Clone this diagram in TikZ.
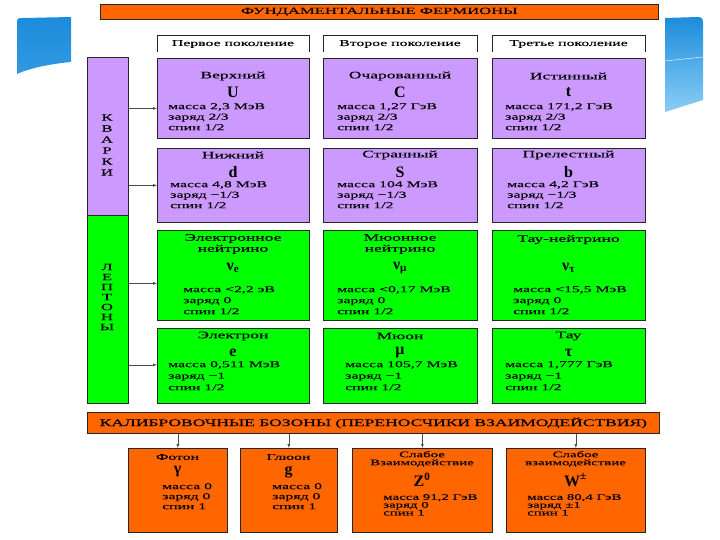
\documentclass[tikz,border=0pt]{standalone}
\usepackage{fontspec}
\setmainfont{Liberation Serif}
\newfontfamily\wfont[FakeStretch=1.75, FakeBold=0.15]{Liberation Serif}
\definecolor{orng}{HTML}{FF6600}
\definecolor{quark}{HTML}{CC99FF}
\definecolor{lepton}{HTML}{00FF00}
\definecolor{sky}{HTML}{1C8CDC}
\definecolor{skylt}{HTML}{8ACEF5}

\begin{document}
\begin{tikzpicture}[x=1pt, y=-1pt,
  cell/.style={draw=black!85, line width=0.7pt, anchor=north west, inner sep=0pt},
  ttl/.style={font=\wfont\fontsize{10}{11}\selectfont, align=center, inner sep=0pt},
  sym/.style={font=\bfseries\fontsize{16}{16}\selectfont, inner sep=0pt},
  prop/.style={font=\wfont\fontsize{9}{10.5}\selectfont, align=left, anchor=north west, inner sep=0pt},
  lbl/.style={font=\wfont\fontsize{9}{11}\selectfont, align=center, inner sep=0pt},
  arr/.style={-latex, black!70, thin}]
\useasboundingbox (0,0) rectangle (720,540);

% corner decoration
\shade[top color=sky, bottom color=sky!80!skylt] (17,74) -- (17,22) .. controls (17,18) and (19,18) .. (23,18)
  -- (71,17) -- (71,62) .. controls (50,64) and (30,68) .. (17,74) -- cycle;
\shade[top color=sky, bottom color=skylt] (665,112) -- (665,18) -- (698,17) .. controls (702,17) and (703,19) .. (703,23)
  -- (703,100) .. controls (690,104) and (678,108) .. (665,112) -- cycle;
\draw[white, thin] (665,61) -- (703,57);

% fermions
\node[cell, fill=orng, minimum width=558pt, minimum height=15pt, lbl, font=\wfont\fontsize{9.5}{11}\selectfont] (ferm) at (100,4) {ФУНДАМЕНТАЛЬНЫЕ ФЕРМИОНЫ};
\foreach \x/\w/\n/\t in {157/152/g1/Первое поколение, 323/154/g2/Второе поколение, 492/153/g3/Третье поколение} {
  \draw[black!85] (\x,52) |- (\x+\w,35) -- (\x+\w,52);
  \node[lbl] (\n) at (\x+\w/2,44) {\t};
}

\node[cell, fill=quark, minimum width=41pt, minimum height=158pt] (quarks) at (87,57) {};
\node[lbl, font=\wfont\fontsize{9.5}{11}\selectfont] at (107,145) {К\\В\\А\\Р\\К\\И};
\node[cell, fill=lepton, minimum width=41pt, minimum height=188pt] (leptons) at (87,215) {};
\node[lbl, font=\wfont\fontsize{9.5}{10}\selectfont] at (107,297) {Л\\Е\\П\\Т\\О\\Н\\Ы};

% quarks
\foreach \x/\w/\n/\t/\s/\m/\q/\dx in {157/152/u/Верхний/U/{2,3 МэВ}/{2/3}/11,
    323/154/c/Очарованный/C/{1,27 ГэВ}/{2/3}/14, 492/153/t/Истинный/t/{171,2 ГэВ}/{2/3}/13} {
  \node[cell, fill=quark, minimum width=\w pt, minimum height=80pt] (\n) at (\x,58) {};
  \node[ttl] at (\x+\w/2,76) {\t};
  \node[sym] at (\x+\w/2,92) {\s};
  \node[prop] at (\x+\dx,103) {масса \m\\заряд \q\\спин 1/2};
}
\foreach \x/\w/\n/\t/\s/\m/\dx in {157/152/d/Нижний/d/{4,8 МэВ}/13,
    323/154/s/Странный/S/{104 МэВ}/14, 492/153/b/Прелестный/b/{4,2 ГэВ}/15} {
  \node[cell, fill=quark, minimum width=\w pt, minimum height=74pt] (\n) at (\x,148) {};
  \node[ttl] at (\x+\w/2,155) {\t};
  \node[sym] at (\x+\w/2,172) {\s};
  \node[prop] at (\x+\dx,181) {масса \m\\заряд −1/3\\спин 1/2};
}

% leptons
\foreach \x/\w/\n/\t/\s/\m/\dx in {157/152/ne/{Электронное\\нейтрино}/e/{<2,2 эВ}/26,
    323/154/nm/{Мюонное\\нейтрино}/μ/{<0,17 МэВ}/14, 492/153/nt/{Тау-нейтрино\\ }/τ/{<15,5 МэВ}/21} {
  \node[cell, fill=lepton, minimum width=\w pt, minimum height=90pt] (\n) at (\x,230) {};
  \node[ttl] at (\x+\w/2,244) {\t};
  \node[sym] at (\x+\w/2,268) {ν\textsubscript{\s}};
  \node[prop, font=\wfont\fontsize{9}{11}\selectfont] at (\x+\dx,286) {масса \m\\заряд 0\\спин 1/2};
}
\foreach \x/\w/\n/\t/\s/\m/\dx in {157/152/e/Электрон/e/{0,511 МэВ}/11,
    323/154/m/Мюон/μ/{105,7 МэВ}/22, 492/153/ta/Тау/τ/{1,777 ГэВ}/13} {
  \node[cell, fill=lepton, minimum width=\w pt, minimum height=75pt] (\n) at (\x,328) {};
  \node[ttl] at (\x+\w/2,336) {\t};
  \node[sym] at (\x+\w/2,353) {\s};
  \node[prop, font=\wfont\fontsize{9}{11.5}\selectfont] at (\x+\dx,361) {масса \m\\заряд −1\\спин 1/2};
}

\foreach \g/\n/\s in {quarks/u/-10, quarks/d/0, leptons/ne/-8, leptons/e/1}
  \draw[arr] ([yshift=\s pt]\g.east |- \n.west) -- ([yshift=\s pt]\n.west);

% bosons
\node[cell, fill=orng, minimum width=572pt, minimum height=21pt, lbl, font=\wfont\fontsize{10}{11}\selectfont] (bos) at (87,412) {КАЛИБРОВОЧНЫЕ БОЗОНЫ (ПЕРЕНОСЧИКИ ВЗАИМОДЕЙСТВИЯ)};
\foreach \x/\w/\n/\t/\s/\dx in {128/99/b1/Фотон/γ/34, 240/97/b2/Глюон/g/32} {
  \node[cell, fill=orng, minimum width=\w pt, minimum height=84pt] (\n) at (\x,448) {};
  \node[ttl, font=\wfont\fontsize{9}{9}\selectfont] at (\x+\w/2,457) {\t};
  \node[sym] at (\x+\w/2,472) {\s};
  \node[prop, font=\wfont\fontsize{9}{10}\selectfont] at (\x+\dx,483) {масса 0\\заряд 0\\спин 1};
}
\foreach \x/\w/\n/\t/\s/\m/\q/\dx in {352/140/b3/{Слабое\\Взаимодействие}/{Z\textsuperscript{0}}/{91,2 ГэВ}/0/31,
    506/139/b4/{Слабое\\взаимодействие}/{W\textsuperscript{±}}/{80,4 ГэВ}/±1/21} {
  \node[cell, fill=orng, minimum width=\w pt, minimum height=84pt] (\n) at (\x,448) {};
  \node[ttl, font=\wfont\fontsize{8.5}{8}\selectfont] at (\x+\w/2,459) {\t};
  \node[sym] at (\x+\w/2,480) {\s};
  \node[prop, font=\wfont\fontsize{8.5}{7.8}\selectfont] at (\x+\dx,494) {масса \m\\заряд \q\\спин 1};
}
\foreach \n in {b1,b2,b3,b4}
  \draw[arr] (bos.south -| \n.north) -- (\n.north);
\end{tikzpicture}
\end{document}
